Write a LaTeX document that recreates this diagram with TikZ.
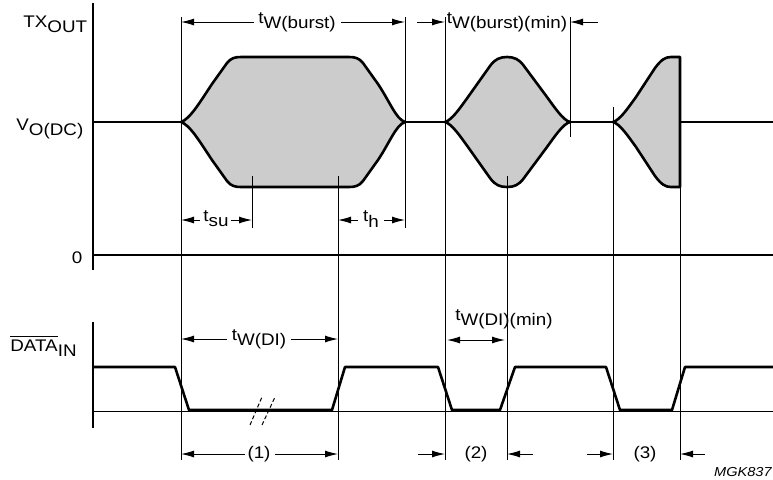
\documentclass[tikz,border=0pt]{standalone}
\usepackage{fontspec}
\setmainfont{Liberation Sans}[FakeStretch=1.12]
\usetikzlibrary{arrows.meta}
\definecolor{envgray}{RGB}{204,204,204}
\newcommand\lowr[1]{\raisebox{-2.6pt}{#1}}
\begin{document}
\begin{tikzpicture}[x=0.5pt,y=-0.5pt,
  guide/.style={line width=0.5pt},
  axis/.style={line width=0.8pt},
  sig/.style={line width=1.3pt, line join=round},
  env/.style={fill=envgray, draw=black, line width=1.3pt, line join=round},
  dim/.style={line width=0.5pt, -{Latex[length=6.5pt,width=3.5pt]}},
  dimb/.style={line width=0.5pt, {Latex[length=6.5pt,width=3.5pt]}-{Latex[length=6.5pt,width=3.5pt]}},
  lbl/.style={font=\fontsize{8.4}{10}\selectfont, inner sep=0pt},
  brk/.style={line width=0.5pt, dash pattern=on 2pt off 1.2pt},
]
\useasboundingbox (0,0) rectangle (773,479);

% ---------- top: TX_OUT ----------
\draw[axis] (93,3) -- (93,270);
\draw[line width=0.7pt] (93,255) -- (773,255);
\node[lbl, anchor=base west] (txout) at (23,27) {TX\lowr{OUT}};
\node[lbl, anchor=base west] (vodc) at (16,130) {V\lowr{O(DC)}};
\node[lbl, anchor=base] (zero) at (77,263) {0};

% envelopes
\filldraw[env] (181,122) .. controls (190,119) and (200,102) .. (212,84) -- (227,63)
  .. controls (231,58) and (235,57) .. (241,57) -- (349,57)
  .. controls (355,57) and (359,58) .. (363,63) -- (378,84)
  .. controls (390,102) and (396,119) .. (405,122)
  .. controls (396,125) and (390,142) .. (378,160) -- (363,181)
  .. controls (359,186) and (355,187) .. (349,187) -- (241,187)
  .. controls (235,187) and (231,186) .. (227,181) -- (212,160)
  .. controls (200,142) and (190,125) .. (181,122) -- cycle;
\filldraw[env] (445,122) .. controls (452,120) and (460,108) .. (468,97) -- (490,66)
  .. controls (495,59) and (500,57) .. (507,57)
  .. controls (514,57) and (519,59) .. (524,66) -- (547,97)
  .. controls (555,108) and (563,120) .. (570,122)
  .. controls (563,124) and (555,136) .. (547,147) -- (524,178)
  .. controls (519,185) and (514,187) .. (507,187)
  .. controls (500,187) and (495,185) .. (490,178) -- (468,147)
  .. controls (460,136) and (452,124) .. (445,122) -- cycle;
\filldraw[env] (613,122) .. controls (620,120) and (628,108) .. (636,97) -- (655,68)
  .. controls (661,60) and (665,57) .. (671,57) -- (680,57) -- (680,187) -- (671,187)
  .. controls (665,187) and (661,184) .. (655,176) -- (636,147)
  .. controls (628,136) and (620,124) .. (613,122) -- cycle;

% baseline
\draw[sig] (93,122) -- (181,122);
\draw[sig] (405,122) -- (445,122);
\draw[sig] (570,122) -- (613,122);
\draw[sig] (680,122) -- (773,122);

% guide lines
\draw[guide] (181,17) -- (181,460);
\draw[guide] (405,17) -- (405,228);
\draw[guide] (445,17) -- (445,460);
\draw[guide] (570,17) -- (570,137);
\draw[guide] (252,176) -- (252,228);
\draw[guide] (338,176) -- (338,460);
\draw[guide] (507,176) -- (507,460);
\draw[guide] (613,107) -- (613,460);
\draw[guide] (680,187) -- (680,460);

% top dimensions
\node[lbl] (twb) at (297,22) {t\lowr{W(burst)}};
\draw[dim] (254,22) -- (181,22);
\draw[dim] (341,22) -- (405,22);
\node[lbl] (twbmin) at (507,22) {t\lowr{W(burst)(min)}};
\draw[dim] (417,22) -- (445,22);
\draw[dim] (598,22) -- (570,22);
\node[lbl] (tsu) at (216,219) {t\lowr{su}};
\draw[dim] (200,220) -- (181,220);
\draw[dim] (231,220) -- (252,220);
\node[lbl] (th) at (371,219) {t\lowr{h}};
\draw[dim] (358,220) -- (338,220);
\draw[dim] (384,220) -- (405,220);

% ---------- bottom: DATA_IN ----------
\draw[axis] (93,322) -- (93,428);
\draw[guide] (93,411) -- (773,411);
\node[lbl, anchor=base west] (datain) at (10,351) {$\overline{\mbox{DATA}}$\lowr{IN}};
\draw[sig] (93,367) -- (175,367) -- (189,410) -- (332,410) -- (345,367) -- (438,367)
  -- (452,410) -- (500,410) -- (515,367) -- (606,367) -- (620,410) -- (672,410)
  -- (685,367) -- (773,367);
\draw[brk] (250,425) -- (262,397);
\draw[brk] (262,425) -- (275,397);

\node[lbl] (twdi) at (259,339) {t\lowr{W(DI)}};
\draw[dim] (227,339) -- (181,339);
\draw[dim] (291,339) -- (338,339);
\node[lbl] (twdimin) at (504,319) {t\lowr{W(DI)(min)}};
\draw[dimb] (447,340) -- (505,340);

\node[lbl] (n1) at (259,454) {(1)};
\draw[dim] (245,454) -- (181,454);
\draw[dim] (275,454) -- (338,454);
\draw[dim] (418,454) -- (445,454);
\node[lbl] (n2) at (476,454) {(2)};
\draw[dim] (533,454) -- (507,454);
\draw[dim] (587,454) -- (613,454);
\node[lbl] (n3) at (645,454) {(3)};
\draw[dim] (705,454) -- (680,454);

\node[font=\fontsize{6.5}{8}\selectfont\itshape, inner sep=0pt, anchor=east] (mgk) at (772,472) {MGK837};
\end{tikzpicture}
\end{document}
